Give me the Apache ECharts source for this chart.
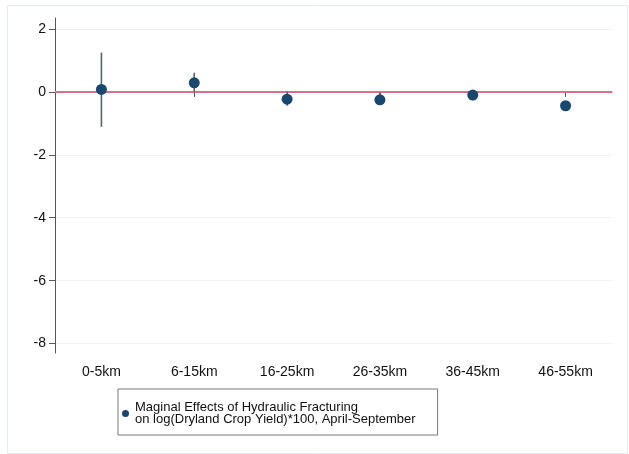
<!DOCTYPE html>
<html>
<head>
<meta charset="utf-8">
<script src="https://cdn.jsdelivr.net/npm/echarts@6/dist/echarts.min.js"></script>
<style>html,body{margin:0;padding:0;background:#fff}#c{width:629px;height:454px}</style>
</head>
<body>
<div id="c"></div>
<script>
var categories = ['0-5km', '6-15km', '16-25km', '26-35km', '36-45km', '46-55km'];
var estimates = [0.08, 0.29, -0.23, -0.25, -0.10, -0.44];
var ciLower = [-1.11, -0.02, -0.44, -0.40, -0.26, -0.50];
var ciUpper = [1.25, 0.61, 0.01, -0.02, 0.03, -0.38];
var yTicks = [-8, -6, -4, -2, 0, 2];
var legendLabel = 'Maginal Effects of Hydraulic Fracturing\non log(Dryland Crop Yield)*100, April-September';

var chart = echarts.init(document.getElementById('c'), null, {renderer: 'canvas'});
var font = 'Liberation Sans, Arial, Helvetica, sans-serif';
var ciData = categories.map(function (c, i) { return [i, ciLower[i], ciUpper[i]]; });
var ptData = categories.map(function (c, i) { return [i, estimates[i]]; });

chart.setOption({
  backgroundColor: '#ffffff',
  animation: false,
  graphic: [{
    type: 'rect', left: 5, top: 3, silent: true, z: -10,
    shape: {width: 620, height: 448},
    style: {fill: 'none', stroke: '#e6edf1', lineWidth: 1}
  }],
  grid: {left: 55, right: 17, top: 18, bottom: 101, containLabel: false},
  xAxis: {
    type: 'category',
    data: categories,
    boundaryGap: true,
    axisLine: {show: true, lineStyle: {color: '#555', width: 1}},
    axisTick: {show: true, alignWithLabel: true, length: 5, lineStyle: {color: '#555'}},
    axisLabel: {color: '#111', fontFamily: font, fontSize: 14, margin: 12},
    splitLine: {show: false}
  },
  yAxis: {
    type: 'value',
    min: -8.3,
    max: 2.35,
    axisLine: {show: true, lineStyle: {color: '#555', width: 1}},
    axisTick: {show: true, length: 6, lineStyle: {color: '#555'}, customValues: yTicks},
    axisLabel: {color: '#111', fontFamily: font, fontSize: 14, margin: 9, customValues: yTicks},
    splitLine: {show: true, lineStyle: {color: '#eef2f4', width: 1}}
  },
  legend: {
    left: 118, top: 389,
    data: [{name: legendLabel, icon: 'circle'}],
    itemWidth: 9, itemHeight: 7, itemGap: 0,
    padding: [12, 22, 9, 4],
    borderColor: '#777', borderWidth: 1, borderRadius: 0,
    backgroundColor: '#fff',
    selectedMode: false,
    textStyle: {color: '#111', fontFamily: font, fontSize: 13, lineHeight: 12}
  },
  series: [
    {
      type: 'custom',
      name: 'ci',
      data: ciData,
      encode: {x: 0, y: [1, 2]},
      renderItem: function (params, api) {
        var i = api.value(0);
        var a = api.coord([i, api.value(1)]);
        var b = api.coord([i, api.value(2)]);
        return {type: 'line', shape: {x1: a[0], y1: a[1], x2: b[0], y2: b[1]},
                style: {stroke: '#5a6570', lineWidth: 1.6}};
      },
      z: 3
    },
    {
      type: 'scatter',
      name: legendLabel,
      data: ptData,
      symbol: 'circle',
      symbolSize: 11,
      itemStyle: {color: '#1a476f', opacity: 1},
      z: 4,
      markLine: {
        silent: true, symbol: 'none',
        label: {show: false},
        lineStyle: {color: '#dc7088', width: 2, type: 'solid', opacity: 1},
        data: [{yAxis: 0}],
        z: 2
      }
    }
  ]
});
</script>
</body>
</html>
